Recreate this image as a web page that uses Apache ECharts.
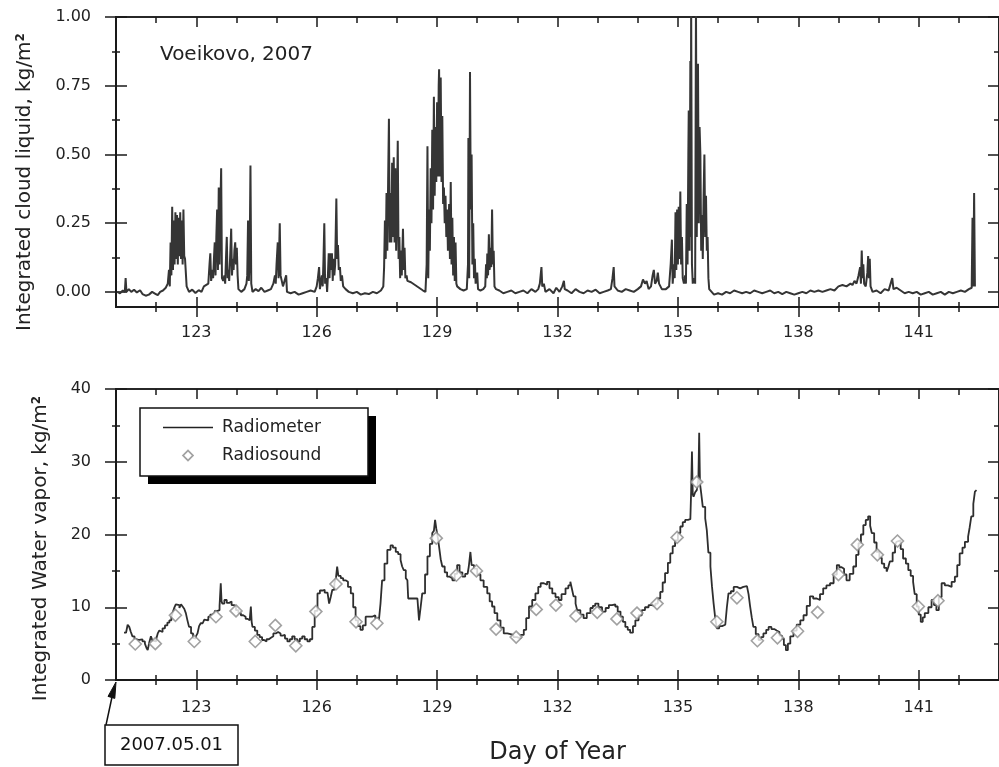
<!DOCTYPE html>
<html><head><meta charset="utf-8">
<script src="https://cdn.jsdelivr.net/npm/echarts@6/dist/echarts.min.js"></script>
<style>html,body{margin:0;padding:0;background:#fff}#c{width:999px;height:767px}</style>
</head><body><div id="c"></div>
<script>
// ---- DATA ----
const dayTicksMajor = [123,126,129,132,135,138,141];
const dayTicksMinor = [122,124,125,127,128,130,131,133,134,136,137,139,140,142];
const lwpTicks = [0,0.25,0.5,0.75,1];
const lwpTicksMinor = [0.125,0.375,0.625,0.875];
const iwvTicks = [0,10,20,30,40];
const iwvTicksMinor = [5,15,25,35];

// Integrated cloud liquid, kg/m2  [day of year, value]
const cloudLiquid = [
[121.03,0.00],[121.1,-0.005],[121.17,0.005],[121.22,0.0],[121.24,0.05],[121.26,0.0],[121.32,0.01],[121.38,0.0],[121.45,0.008],[121.52,-0.002],[121.6,0.006],[121.66,-0.008],[121.74,-0.014],[121.82,-0.01],[121.9,0.0],[121.97,-0.006],[122.04,-0.012],[122.1,0.0],[122.17,0.005],[122.24,0.015],[122.29,0.03],
[122.32,0.08],[122.34,0.02],[122.36,0.18],[122.38,0.06],[122.40,0.31],[122.42,0.08],[122.44,0.26],[122.46,0.1],[122.48,0.29],[122.5,0.12],[122.52,0.28],[122.54,0.1],[122.56,0.27],[122.58,0.13],[122.6,0.29],[122.62,0.12],[122.64,0.26],[122.66,0.1],[122.68,0.3],[122.7,0.13],[122.72,0.12],[122.74,0.12],[122.76,0.02],
[122.82,0.0],[122.9,0.008],[122.98,-0.004],[123.06,0.006],[123.13,0.0],[123.19,0.02],
[123.3,0.03],[123.33,0.1],[123.35,0.14],[123.37,0.04],[123.4,0.08],[123.42,0.05],[123.44,0.12],[123.46,0.18],[123.48,0.06],[123.5,0.2],[123.52,0.30],[123.54,0.08],[123.56,0.38],[123.58,0.1],[123.6,0.3],[123.62,0.45],[123.64,0.05],[123.67,0.04],[123.7,0.06],[123.72,0.03],[123.74,0.12],[123.76,0.2],[123.78,0.05],[123.8,0.08],[123.82,0.04],[123.85,0.15],[123.87,0.23],[123.89,0.06],[123.91,0.12],[123.93,0.08],[123.95,0.15],[123.97,0.18],[123.99,0.1],[124.01,0.16],[124.03,0.06],[124.05,0.01],[124.12,0.0],[124.2,0.01],[124.25,0.03],[124.27,0.06],[124.29,0.26],[124.31,0.04],[124.33,0.12],[124.35,0.46],[124.37,0.03],[124.4,0.0],[124.48,0.01],[124.55,0.003],[124.62,0.015],[124.7,0.0],[124.78,0.005],[124.86,0.01],[124.92,0.03],[124.96,0.06],[124.98,0.03],[125.0,0.1],[125.03,0.18],[125.05,0.05],[125.08,0.25],[125.1,0.06],[125.13,0.04],[125.16,0.02],[125.2,0.02],[125.24,0.06],[125.26,0.0],[125.35,-0.005],[125.45,0.0],[125.55,-0.01],[125.65,-0.005],[125.75,0.0],[125.85,0.005],[125.95,0.0],[126.0,0.02],
[126.03,0.05],[126.06,0.09],[126.08,0.01],[126.1,0.03],[126.13,0.06],[126.15,0.02],[126.17,0.12],[126.19,0.25],[126.21,0.03],[126.24,0.05],[126.26,0.0],[126.28,0.06],[126.3,0.14],[126.32,0.05],[126.34,0.14],[126.36,0.08],[126.38,0.14],[126.4,0.04],[126.42,0.12],[126.44,0.06],[126.46,0.1],[126.49,0.34],[126.51,0.12],[126.53,0.17],[126.55,0.08],[126.58,0.09],[126.6,0.04],[126.63,0.06],[126.66,0.02],[126.72,0.01],[126.8,0.0],[126.9,-0.005],[127.0,0.0],[127.1,-0.01],[127.2,-0.005],[127.3,-0.008],[127.4,0.0],[127.5,-0.005],[127.6,0.005],[127.66,0.02],
[127.68,0.09],[127.7,0.26],[127.72,0.12],[127.74,0.36],[127.76,0.15],[127.78,0.4],[127.8,0.63],[127.82,0.18],[127.84,0.36],[127.86,0.18],[127.88,0.47],[127.9,0.2],[127.92,0.49],[127.94,0.18],[127.96,0.45],[127.98,0.15],[128.0,0.3],[128.02,0.55],[128.04,0.12],[128.06,0.2],[128.08,0.05],[128.1,0.15],[128.12,0.06],[128.15,0.23],[128.17,0.08],[128.19,0.16],[128.21,0.05],[128.24,0.06],[128.26,0.04],
[128.35,0.035],[128.45,0.025],[128.55,0.015],[128.65,0.005],[128.71,0.0],
[128.74,0.1],[128.76,0.53],[128.78,0.05],[128.8,0.3],[128.82,0.15],[128.84,0.45],[128.86,0.25],[128.88,0.59],[128.9,0.3],[128.92,0.71],[128.94,0.35],[128.96,0.6],[128.98,0.4],[129.0,0.69],[129.02,0.42],[129.04,0.75],[129.05,0.81],[129.07,0.42],[129.09,0.78],[129.11,0.4],[129.13,0.64],[129.15,0.32],[129.17,0.38],[129.19,0.25],[129.21,0.35],[129.23,0.2],[129.25,0.3],[129.27,0.15],[129.3,0.32],[129.32,0.12],[129.34,0.40],[129.36,0.1],[129.38,0.27],[129.4,0.06],[129.42,0.2],[129.44,0.04],[129.46,0.18],[129.48,0.03],[129.5,0.02],
[129.58,0.01],[129.66,0.005],[129.74,0.01],
[129.77,0.1],[129.78,0.56],[129.8,0.05],[129.82,0.80],[129.84,0.3],[129.86,0.5],[129.88,0.1],[129.9,0.25],[129.92,0.05],[129.94,0.12],[129.96,0.03],[130.0,0.07],[130.02,0.01],[130.08,0.005],[130.15,0.01],[130.2,0.02],
[130.22,0.1],[130.24,0.05],[130.25,0.14],[130.27,0.06],[130.29,0.21],[130.31,0.08],[130.33,0.16],[130.35,0.09],[130.37,0.30],[130.39,0.1],[130.41,0.15],[130.43,0.02],[130.47,0.01],
[130.55,0.005],[130.65,-0.005],[130.75,0.0],[130.85,0.005],[130.95,-0.005],[131.05,0.0],[131.15,0.005],[131.25,-0.005],[131.35,0.01],[131.45,0.0],[131.52,0.01],[131.56,0.03],[131.58,0.06],[131.6,0.09],[131.62,0.02],[131.66,0.03],[131.7,0.0],[131.8,0.01],[131.9,-0.005],[131.97,0.015],[132.05,0.0],[132.12,0.02],[132.16,0.04],[132.18,0.01],[132.25,0.005],[132.35,-0.005],[132.45,0.01],[132.55,0.0],[132.65,-0.005],[132.75,0.005],[132.85,0.0],[132.95,0.008],[133.05,-0.005],[133.15,0.0],[133.25,0.005],[133.33,0.01],[133.37,0.05],[133.4,0.09],[133.42,0.02],[133.5,0.005],[133.6,0.0],[133.7,0.01],[133.8,0.005],[133.9,0.0],[134.0,0.01],[134.08,0.02],[134.13,0.045],[134.18,0.03],[134.22,0.04],[134.27,0.01],[134.33,0.02],[134.37,0.06],[134.4,0.08],[134.43,0.03],[134.47,0.04],[134.5,0.07],[134.53,0.03],[134.6,0.01],[134.7,0.01],[134.78,0.02],
[134.82,0.1],[134.85,0.19],[134.87,0.03],[134.9,0.1],[134.92,0.05],[134.94,0.29],[134.96,0.08],[134.98,0.3],[135.0,0.1],[135.02,0.31],[135.04,0.12],[135.06,0.365],[135.08,0.1],[135.1,0.2],[135.12,0.05],[135.15,0.03],[135.18,0.06],[135.2,0.03],[135.22,0.32],[135.24,0.1],[135.26,0.5],[135.27,0.66],[135.29,0.15],[135.31,0.84],[135.32,0.2],[135.33,1.05],[135.35,0.1],[135.37,0.03],[135.4,0.05],[135.43,0.03],[135.45,1.05],[135.47,0.2],[135.5,0.83],[135.52,0.25],[135.54,0.6],[135.56,0.5],[135.58,0.15],[135.6,0.28],[135.62,0.12],[135.64,0.35],[135.66,0.50],[135.68,0.2],[135.7,0.35],[135.72,0.15],[135.74,0.2],[135.76,0.05],[135.78,0.01],
[135.9,-0.01],[136.0,-0.005],[136.1,-0.01],[136.2,0.0],[136.3,-0.005],[136.4,0.005],[136.5,0.0],[136.6,-0.005],[136.7,0.0],[136.8,-0.005],[136.9,0.005],[137.0,0.0],[137.1,-0.005],[137.2,0.0],[137.3,0.005],[137.4,-0.005],[137.5,0.0],[137.6,-0.008],[137.7,0.0],[137.8,-0.005],[137.9,-0.01],[138.0,-0.005],[138.1,0.0],[138.2,-0.005],[138.3,0.005],[138.4,0.0],[138.5,0.005],[138.6,0.0],[138.7,0.005],[138.8,0.01],[138.9,0.005],[139.0,0.02],[139.1,0.025],[139.2,0.02],[139.3,0.03],[139.35,0.025],[139.4,0.04],
[139.45,0.03],[139.5,0.06],[139.54,0.09],[139.56,0.03],[139.58,0.15],[139.6,0.05],[139.62,0.1],[139.64,0.03],[139.68,0.02],[139.72,0.07],[139.74,0.13],[139.76,0.05],[139.78,0.12],[139.8,0.02],[139.85,0.0],[139.95,0.005],[140.05,-0.005],[140.15,0.01],[140.25,0.005],[140.3,0.03],[140.34,0.05],[140.37,0.01],[140.45,0.015],[140.55,0.005],[140.65,-0.005],[140.75,0.0],[140.85,-0.005],[140.95,0.0],[141.05,-0.01],[141.15,-0.005],[141.25,0.0],[141.35,-0.01],[141.45,-0.005],[141.55,0.0],[141.65,-0.01],[141.75,0.0],[141.85,-0.005],[141.95,0.0],[142.05,0.005],[142.15,0.0],[142.25,0.01],[142.32,0.015],[142.34,0.27],[142.36,0.02],[142.38,0.36],[142.4,0.02]
];

// Integrated water vapor, radiometer [day, kg/m2]
const radiometer = [
[121.2,6.5],[121.25,6.4],[121.29,7.6],[121.33,7.3],[121.37,6.6],[121.41,6.0],[121.46,5.7],[121.5,5.5],[121.58,5.6],[121.66,5.3],[121.72,5.0],[121.76,4.4],[121.79,4.1],[121.83,5.2],[121.87,6.0],[121.91,5.4],[121.95,5.3],[122.0,5.6],[122.04,6.4],[122.08,6.8],[122.12,6.6],[122.16,7.1],[122.22,7.5],[122.28,7.9],[122.33,8.2],[122.38,8.7],[122.42,9.4],[122.45,9.9],[122.49,10.4],[122.53,10.3],[122.58,9.9],[122.62,10.4],[122.66,10.1],[122.7,9.8],[122.74,9.2],[122.78,8.2],[122.82,7.3],[122.87,6.4],[122.92,5.8],[122.95,5.7],[122.99,6.0],[123.03,6.4],[123.07,7.4],[123.11,7.8],[123.16,7.9],[123.2,8.3],[123.24,8.2],[123.3,8.7],[123.35,9.0],[123.4,9.2],[123.46,9.5],[123.53,9.6],[123.58,10.2],[123.61,13.3],[123.63,10.8],[123.65,10.5],[123.7,11.0],[123.76,10.6],[123.82,10.8],[123.88,10.3],[123.94,10.1],[123.99,9.6],[124.05,9.2],[124.11,8.9],[124.17,8.7],[124.23,8.4],[124.28,8.2],[124.33,8.4],[124.36,10.1],[124.38,8.0],[124.4,7.3],[124.46,6.8],[124.52,6.2],[124.58,5.9],[124.64,5.5],[124.69,5.3],[124.75,5.6],[124.81,5.8],[124.86,6.0],[124.92,6.4],[124.98,6.6],[125.04,6.4],[125.1,6.1],[125.15,6.2],[125.21,5.7],[125.27,5.3],[125.33,5.6],[125.39,6.0],[125.45,5.6],[125.52,5.3],[125.58,5.7],[125.64,6.0],[125.7,5.6],[125.77,5.3],[125.83,5.6],[125.89,7.3],[125.95,9.5],[126.02,11.9],[126.08,12.3],[126.14,12.4],[126.2,12.0],[126.27,11.9],[126.31,10.5],[126.35,11.4],[126.39,12.4],[126.44,13.3],[126.48,14.0],[126.51,15.6],[126.54,14.3],[126.6,14.0],[126.66,13.7],[126.72,13.5],[126.78,12.8],[126.85,11.9],[126.91,10.0],[126.97,8.2],[127.03,7.4],[127.09,6.9],[127.15,7.5],[127.22,8.7],[127.3,8.7],[127.38,8.9],[127.46,8.5],[127.55,8.2],[127.59,10.5],[127.63,13.7],[127.69,16.0],[127.76,17.9],[127.84,18.5],[127.9,18.2],[127.97,17.6],[128.03,17.3],[128.09,16.5],[128.13,15.6],[128.17,15.1],[128.22,14.0],[128.26,13.7],[128.28,11.2],[128.4,11.2],[128.51,11.2],[128.55,8.2],[128.59,10.0],[128.63,11.9],[128.7,14.5],[128.76,17.0],[128.82,18.7],[128.88,20.2],[128.92,20.5],[128.95,22.0],[128.98,20.8],[129.02,19.5],[129.05,18.3],[129.09,16.6],[129.13,15.6],[129.19,14.8],[129.25,14.2],[129.31,14.0],[129.38,13.7],[129.44,14.6],[129.5,15.8],[129.56,14.8],[129.63,14.2],[129.7,14.6],[129.76,14.8],[129.79,15.6],[129.83,17.6],[129.86,15.8],[129.92,15.3],[130.0,14.5],[130.08,13.7],[130.16,12.8],[130.25,11.9],[130.31,10.8],[130.37,10.1],[130.43,9.2],[130.5,8.2],[130.58,7.2],[130.66,6.4],[130.75,6.3],[130.83,6.2],[130.9,5.9],[130.99,5.7],[131.08,6.2],[131.16,6.9],[131.22,8.5],[131.29,10.1],[131.37,11.0],[131.45,11.9],[131.52,12.8],[131.58,13.3],[131.66,13.1],[131.74,13.5],[131.8,12.6],[131.87,11.9],[131.95,11.4],[132.03,11.0],[132.1,11.8],[132.2,12.6],[132.27,13.0],[132.32,13.5],[132.36,12.5],[132.4,11.5],[132.45,10.5],[132.49,9.6],[132.57,9.0],[132.65,8.5],[132.73,9.2],[132.82,9.9],[132.88,10.2],[132.94,10.5],[133.02,10.0],[133.11,9.4],[133.2,9.9],[133.28,10.3],[133.36,10.4],[133.44,10.1],[133.5,9.4],[133.57,8.7],[133.63,8.0],[133.69,7.3],[133.75,6.9],[133.81,6.5],[133.88,7.4],[133.94,8.2],[134.02,8.9],[134.1,9.6],[134.18,10.0],[134.27,10.3],[134.35,10.2],[134.44,10.5],[134.5,11.2],[134.56,12.1],[134.62,13.4],[134.68,14.7],[134.75,16.1],[134.81,17.4],[134.87,18.4],[134.93,19.2],[135.0,20.2],[135.06,21.1],[135.12,21.7],[135.18,22.0],[135.25,22.1],[135.31,22.2],[135.33,26.0],[135.35,31.4],[135.37,25.5],[135.39,25.2],[135.43,25.8],[135.47,26.1],[135.51,27.5],[135.53,34.0],[135.55,27.0],[135.58,25.7],[135.62,23.8],[135.68,22.2],[135.72,20.6],[135.76,17.5],[135.81,15.6],[135.85,12.8],[135.89,10.5],[135.93,8.5],[135.97,7.1],[136.03,7.4],[136.1,7.6],[136.18,7.8],[136.22,10.0],[136.26,11.9],[136.32,12.2],[136.39,12.8],[136.47,12.6],[136.55,12.8],[136.63,12.9],[136.72,13.1],[136.76,11.8],[136.8,10.1],[136.84,8.6],[136.88,7.3],[136.94,6.3],[137.01,5.5],[137.07,5.9],[137.13,6.4],[137.2,6.9],[137.26,7.3],[137.33,7.0],[137.4,6.8],[137.46,6.6],[137.53,6.1],[137.59,5.7],[137.64,4.8],[137.69,4.1],[137.74,5.0],[137.8,6.0],[137.88,6.8],[137.96,7.6],[138.05,8.2],[138.13,8.9],[138.21,10.2],[138.29,11.5],[138.37,11.2],[138.46,11.0],[138.54,11.8],[138.62,12.6],[138.7,13.0],[138.79,13.3],[138.88,14.5],[138.96,15.8],[139.02,15.5],[139.08,15.3],[139.14,14.5],[139.2,13.7],[139.28,14.6],[139.37,15.6],[139.44,17.2],[139.5,18.8],[139.56,20.0],[139.62,21.3],[139.68,22.0],[139.74,22.5],[139.79,21.2],[139.83,20.2],[139.89,18.9],[139.95,17.6],[140.02,16.8],[140.08,16.0],[140.14,15.4],[140.2,14.9],[140.24,15.5],[140.28,16.3],[140.35,17.5],[140.41,18.6],[140.45,19.0],[140.49,19.2],[140.55,18.0],[140.61,16.7],[140.68,16.0],[140.74,15.1],[140.8,14.3],[140.86,13.5],[140.9,11.8],[140.95,10.1],[141.0,9.0],[141.05,8.0],[141.1,8.6],[141.15,9.2],[141.24,10.0],[141.32,11.0],[141.38,10.3],[141.44,9.6],[141.5,11.4],[141.57,13.3],[141.65,13.0],[141.73,12.8],[141.82,13.5],[141.9,14.2],[141.96,15.8],[142.02,17.4],[142.09,18.2],[142.15,19.0],[142.23,19.7],[142.27,21.0],[142.31,22.5],[142.36,24.2],[142.4,25.9],[142.44,26.1]
];

// Integrated water vapor, radiosonde [day, kg/m2]
const radiosound = [
[121.48,4.95],[121.98,5.0],[122.48,8.9],[122.95,5.3],[123.49,8.7],[123.99,9.5],[124.47,5.3],[124.97,7.5],[125.48,4.7],[125.98,9.4],[126.48,13.2],[126.98,8.0],[127.5,7.8],[128.98,19.5],[129.48,14.4],[129.98,15.0],[130.47,7.0],[130.97,5.9],[131.47,9.7],[131.96,10.3],[132.46,8.8],[132.99,9.3],[133.48,8.4],[133.98,9.2],[134.48,10.5],[134.98,19.6],[135.47,27.2],[135.97,8.0],[136.47,11.3],[136.98,5.4],[137.48,5.8],[137.98,6.7],[138.48,9.3],[139.0,14.5],[139.47,18.6],[139.97,17.2],[140.47,19.1],[140.99,10.1],[141.48,10.9]
];

// ---- CHART ----
const FONT = 'DejaVu Sans';
const AX = '#1a1a1a';
const TXT = '#222';
const X_MIN = 121, X_MAX = 143;

function baseAxis(extra) {
  return Object.assign({
    type: 'value',
    splitLine: { show: false },
    axisLine: { show: true, onZero: false, lineStyle: { color: AX, width: 1.6 } },
    axisLabel: { show: false }
  }, extra);
}
function tickAxis(grid, pos, min, max, vals, len, inside, extra) {
  return Object.assign(baseAxis({
    gridIndex: grid, position: pos, min: min, max: max,
    axisTick: { show: true, inside: inside, length: len, customValues: vals,
                lineStyle: { color: AX, width: 1.5 } }
  }), extra || {});
}

const xAxes = [];
const yAxes = [];
[0, 1].forEach(function (g) {
  const labelMargin = g === 0 ? 18 : 20;
  xAxes.push(tickAxis(g, 'bottom', X_MIN, X_MAX, dayTicksMajor, 10, false, {
    axisLabel: { show: true, customValues: dayTicksMajor, margin: labelMargin,
                 fontFamily: FONT, fontSize: 16, color: TXT },
    name: g === 1 ? 'Day of Year' : '',
    nameLocation: 'middle', nameGap: 61,
    nameTextStyle: { fontFamily: FONT, fontSize: 24, color: TXT }
  }));
  xAxes.push(tickAxis(g, 'bottom', X_MIN, X_MAX, dayTicksMajor, 10, true));
  xAxes.push(tickAxis(g, 'bottom', X_MIN, X_MAX, dayTicksMinor, 5, false));
  xAxes.push(tickAxis(g, 'bottom', X_MIN, X_MAX, dayTicksMinor, 5, true));
  xAxes.push(tickAxis(g, 'top', X_MIN, X_MAX, dayTicksMajor, 10, true));
  xAxes.push(tickAxis(g, 'top', X_MIN, X_MAX, dayTicksMinor, 6, true));

  const ymin = g === 0 ? -0.055 : 0;
  const ymax = g === 0 ? 1 : 40;
  const maj = g === 0 ? lwpTicks : iwvTicks;
  const mnr = g === 0 ? lwpTicksMinor : iwvTicksMinor;
  const title = g === 0 ? 'Integrated cloud liquid, kg/m{s|2}' : 'Integrated Water vapor, kg/m{s|2}';
  yAxes.push(tickAxis(g, 'left', ymin, ymax, maj, 11, false, {
    axisLabel: { show: true, customValues: maj, margin: 25,
                 fontFamily: FONT, fontSize: 16, color: TXT,
                 formatter: g === 0 ? function (v) { return v.toFixed(2); } : function (v) { return String(v); } },
    name: title, nameLocation: 'middle', nameGap: g === 0 ? 81 : 65,
    nameTextStyle: { fontFamily: FONT, fontSize: 20, color: TXT,
      padding: g === 0 ? [0, 40, 0, 0] : [0, 28, 0, 0],
      rich: { s: { fontFamily: FONT, fontSize: 12, fontWeight: 'bold', color: TXT, verticalAlign: 'top', lineHeight: 12 } } }
  }));
  yAxes.push(tickAxis(g, 'left', ymin, ymax, maj, 11, true));
  yAxes.push(tickAxis(g, 'left', ymin, ymax, mnr, 4, false));
  yAxes.push(tickAxis(g, 'left', ymin, ymax, mnr, 4, true));
  yAxes.push(tickAxis(g, 'right', ymin, ymax, maj, 11, true));
  yAxes.push(tickAxis(g, 'right', ymin, ymax, mnr, 5, true));
});

// legend icons: a thin line, and a hollow diamond, both in a 50x14 box
const ICON_LINE = 'path://M0,0H0.01V0.01H0Z M0,6.3H50V7.7H0Z M49.99,13.99H50V14H49.99Z';
const ICON_DIAMOND = 'path://M0,0H0.01V0.01H0Z M25,0.8L31.2,7L25,13.2L18.8,7Z M25,3.2L21.2,7L25,10.8L28.8,7Z M49.99,13.99H50V14H49.99Z';

const chart = echarts.init(document.getElementById('c'), null, { renderer: 'canvas' });
chart.setOption({
  animation: false,
  backgroundColor: '#fff',
  grid: [
    { left: 116, top: 17, width: 886, height: 290 },
    { left: 116, top: 389, width: 886, height: 291 }
  ],
  xAxis: xAxes,
  yAxis: yAxes,
  legend: {
    data: [
      { name: 'Radiometer', icon: ICON_LINE, itemStyle: { color: '#222', borderWidth: 0 } },
      { name: 'Radiosound', icon: ICON_DIAMOND, itemStyle: { color: '#8a8a8a', borderWidth: 0 } }
    ],
    orient: 'vertical',
    left: 163, top: 419, z: 20,
    padding: 0,
    itemWidth: 50, itemHeight: 14, itemGap: 11,
    textStyle: { fontFamily: FONT, fontSize: 17, color: TXT, padding: [0, 0, 0, 4] }
  },
  series: [
    {
      name: 'Cloud liquid', type: 'line', xAxisIndex: 0, yAxisIndex: 0,
      data: cloudLiquid, symbol: 'none', clip: true,
      lineStyle: { color: '#353535', width: 2 }
    },
    {
      name: 'Radiometer', type: 'line', xAxisIndex: 6, yAxisIndex: 6,
      data: radiometer, symbol: 'none', step: 'end',
      lineStyle: { color: '#2e2e2e', width: 1.8 },
      itemStyle: { color: '#2e2e2e' }
    },
    {
      name: 'Radiosound', type: 'scatter', xAxisIndex: 6, yAxisIndex: 6,
      data: radiosound, symbol: 'diamond', symbolSize: 12, z: 5,
      itemStyle: { color: '#fff', borderColor: '#8a8a8a', borderWidth: 1.6 }
    }
  ],
  graphic: [
    { type: 'text', left: 160, top: 45, z: 10,
      style: { text: 'Voeikovo, 2007', fontFamily: FONT, fontSize: 20, fill: TXT } },
    // legend frame with its drop shadow
    { type: 'rect', z: 8, shape: { x: 148, y: 416, width: 228, height: 68 },
      style: { fill: '#000' } },
    { type: 'rect', z: 9, shape: { x: 140, y: 408, width: 228, height: 68 },
      style: { fill: '#fff', stroke: '#111', lineWidth: 1.5 } },
    // date annotation
    { type: 'rect', z: 10, shape: { x: 105, y: 725, width: 133, height: 40 },
      style: { fill: '#fff', stroke: '#111', lineWidth: 1.5 } },
    { type: 'text', z: 11, x: 171.5, y: 745,
      style: { text: '2007.05.01', fontFamily: FONT, fontSize: 18, fill: '#111', align: 'center', verticalAlign: 'middle' } },
    { type: 'polyline', z: 10, shape: { points: [[106, 725], [112, 697]] },
      style: { stroke: '#111', lineWidth: 1.5, fill: null } },
    { type: 'polygon', z: 10, shape: { points: [[116, 682], [114.8, 698.4], [108.0, 696.4]] },
      style: { fill: '#111', stroke: '#111', lineWidth: 1 } }
  ]
});
</script>
</body></html>
